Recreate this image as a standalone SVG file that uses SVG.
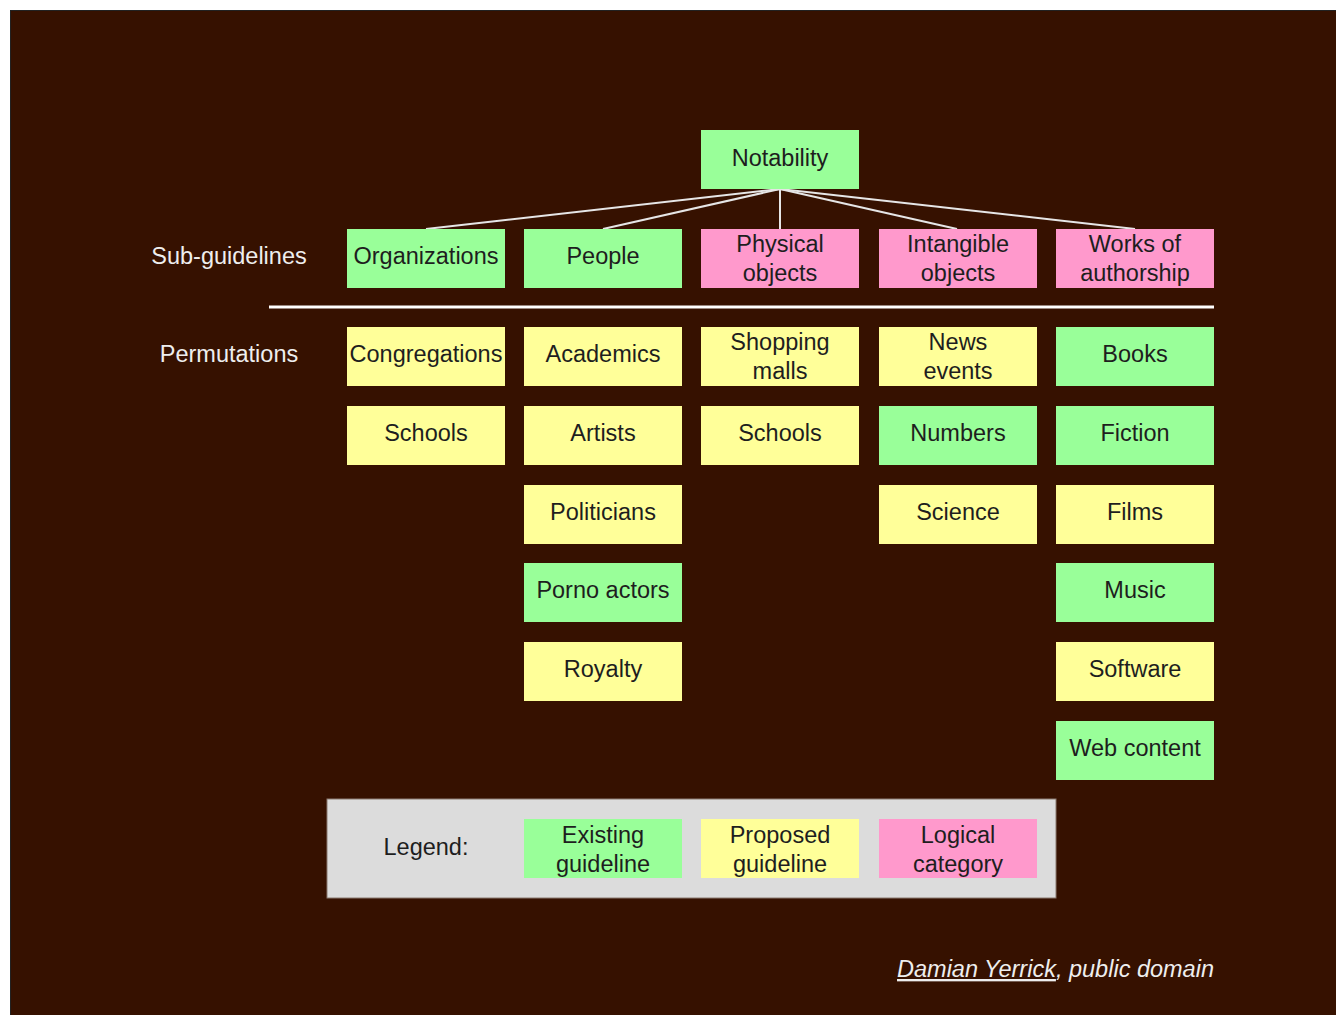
<svg xmlns="http://www.w3.org/2000/svg" width="1336" height="1015" viewBox="0 0 1336 1015">
<style>
.bg{fill:#361100}
.g{fill:#99ff99}
.p{fill:#ff99cc}
.y{fill:#ffff99}
.t{font-family:"Liberation Sans",Arial,sans-serif;font-size:23.5px;fill:#1e1e1e;text-anchor:middle}
.w{font-family:"Liberation Sans",Arial,sans-serif;font-size:23.5px;fill:#eeeeee;text-anchor:middle}
.c{stroke:#e6e6e6;stroke-width:2;fill:none}
</style>
<rect x="0" y="0" width="1336" height="1015" fill="#ffffff"/>
<rect class="bg" x="10" y="10" width="1326" height="1005"/>
<line x1="10.5" y1="10" x2="10.5" y2="1015" stroke="#222" stroke-width="1"/>
<line x1="10" y1="10.5" x2="1336" y2="10.5" stroke="#222" stroke-width="1"/>
<text class="w" x="229" y="264">Sub-guidelines</text>
<text class="w" x="229" y="362">Permutations</text>
<line x1="269" y1="307" x2="1214" y2="307" stroke="#ffffff" stroke-width="3"/>
<g id="connectors">
<line class="c" x1="780" y1="189" x2="426" y2="229"/>
<line class="c" x1="780" y1="189" x2="603" y2="229"/>
<line class="c" x1="780" y1="189" x2="780" y2="229"/>
<line class="c" x1="780" y1="189" x2="957" y2="229"/>
<line class="c" x1="780" y1="189" x2="1135" y2="229"/>
</g>
<g id="notability"><rect class="g" x="701" y="130" width="158" height="59"/><text class="t" x="780" y="166">Notability</text></g>
<g id="organizations"><rect class="g" x="347" y="229" width="158" height="59"/><text class="t" x="426" y="264">Organizations</text></g>
<g id="people"><rect class="g" x="524" y="229" width="158" height="59"/><text class="t" x="603" y="264">People</text></g>
<g id="physical"><rect class="p" x="701" y="229" width="158" height="59"/><text class="t" x="780" y="252">Physical</text><text class="t" x="780" y="281">objects</text></g>
<g id="intangible"><rect class="p" x="879" y="229" width="158" height="59"/><text class="t" x="958" y="252">Intangible</text><text class="t" x="958" y="281">objects</text></g>
<g id="works"><rect class="p" x="1056" y="229" width="158" height="59"/><text class="t" x="1135" y="252">Works of</text><text class="t" x="1135" y="281">authorship</text></g>

<g id="congregations"><rect class="y" x="347" y="327" width="158" height="59"/><text class="t" x="426" y="362">Congregations</text></g>
<g id="schools1"><rect class="y" x="347" y="406" width="158" height="59"/><text class="t" x="426" y="441">Schools</text></g>

<g id="academics"><rect class="y" x="524" y="327" width="158" height="59"/><text class="t" x="603" y="362">Academics</text></g>
<g id="artists"><rect class="y" x="524" y="406" width="158" height="59"/><text class="t" x="603" y="441">Artists</text></g>
<g id="politicians"><rect class="y" x="524" y="485" width="158" height="59"/><text class="t" x="603" y="520">Politicians</text></g>
<g id="porno"><rect class="g" x="524" y="563" width="158" height="59"/><text class="t" x="603" y="598">Porno actors</text></g>
<g id="royalty"><rect class="y" x="524" y="642" width="158" height="59"/><text class="t" x="603" y="677">Royalty</text></g>

<g id="malls"><rect class="y" x="701" y="327" width="158" height="59"/><text class="t" x="780" y="350">Shopping</text><text class="t" x="780" y="379">malls</text></g>
<g id="schools2"><rect class="y" x="701" y="406" width="158" height="59"/><text class="t" x="780" y="441">Schools</text></g>

<g id="news"><rect class="y" x="879" y="327" width="158" height="59"/><text class="t" x="958" y="350">News</text><text class="t" x="958" y="379">events</text></g>
<g id="numbers"><rect class="g" x="879" y="406" width="158" height="59"/><text class="t" x="958" y="441">Numbers</text></g>
<g id="science"><rect class="y" x="879" y="485" width="158" height="59"/><text class="t" x="958" y="520">Science</text></g>

<g id="books"><rect class="g" x="1056" y="327" width="158" height="59"/><text class="t" x="1135" y="362">Books</text></g>
<g id="fiction"><rect class="g" x="1056" y="406" width="158" height="59"/><text class="t" x="1135" y="441">Fiction</text></g>
<g id="films"><rect class="y" x="1056" y="485" width="158" height="59"/><text class="t" x="1135" y="520">Films</text></g>
<g id="music"><rect class="g" x="1056" y="563" width="158" height="59"/><text class="t" x="1135" y="598">Music</text></g>
<g id="software"><rect class="y" x="1056" y="642" width="158" height="59"/><text class="t" x="1135" y="677">Software</text></g>
<g id="web"><rect class="g" x="1056" y="721" width="158" height="59"/><text class="t" x="1135" y="756">Web content</text></g>

<g id="legend">
<rect x="327" y="799" width="729" height="99" fill="#dcdcdc" stroke="#8a7a70" stroke-width="1"/>
<text class="t" x="426" y="855">Legend:</text>
<rect class="g" x="524" y="819" width="158" height="59"/><text class="t" x="603" y="843">Existing</text><text class="t" x="603" y="872">guideline</text>
<rect class="y" x="701" y="819" width="158" height="59"/><text class="t" x="780" y="843">Proposed</text><text class="t" x="780" y="872">guideline</text>
<rect class="p" x="879" y="819" width="158" height="59"/><text class="t" x="958" y="843">Logical</text><text class="t" x="958" y="872">category</text>
</g>
<text x="1214" y="977" font-family="'Liberation Sans',Arial,sans-serif" font-size="23.5" font-style="italic" fill="#eeeeee" text-anchor="end"><tspan text-decoration="underline">Damian Yerrick</tspan>, public domain</text>
</svg>
